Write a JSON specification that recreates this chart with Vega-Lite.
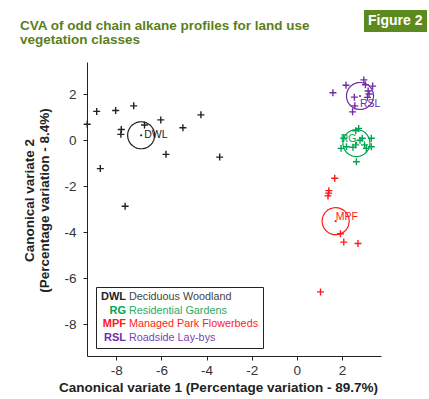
{
  "$schema": "https://vega.github.io/schema/vega-lite/v6.json",
  "width": 294,
  "height": 294,
  "autosize": {"type": "none"},
  "padding": {"left": 87, "top": 62, "right": 48, "bottom": 43},
  "background": "white",
  "title": {
    "text": ["CVA of odd chain alkane profiles for land use", "vegetation classes"],
    "anchor": "start",
    "frame": "group",
    "dx": -67,
    "offset": -36,
    "font": "Liberation Sans",
    "fontSize": 13.5,
    "fontWeight": "bold",
    "color": "#5b7f1a",
    "lineHeight": 14
  },
  "config": {
    "view": {"stroke": null},
    "axis": {
      "grid": false,
      "domainColor": "#222",
      "tickColor": "#222",
      "tickSize": 4,
      "labelFont": "Liberation Sans",
      "labelFontSize": 13.5,
      "labelColor": "#333",
      "labelExpr": "(datum.value < 0 ? '-' : '') + abs(datum.value)",
      "titleFont": "Liberation Sans",
      "titleFontSize": 13.5,
      "titleFontWeight": "bold",
      "titleColor": "#222"
    }
  },
  "data": {
    "values": [
      {"g": "DWL", "name": "Deciduous Woodland", "kind": "pt", "x": -9.29, "y": 0.70},
      {"g": "DWL", "name": "Deciduous Woodland", "kind": "pt", "x": -8.87, "y": 1.26},
      {"g": "DWL", "name": "Deciduous Woodland", "kind": "pt", "x": -8.03, "y": 1.30},
      {"g": "DWL", "name": "Deciduous Woodland", "kind": "pt", "x": -7.23, "y": 1.50},
      {"g": "DWL", "name": "Deciduous Woodland", "kind": "pt", "x": -7.78, "y": 0.47},
      {"g": "DWL", "name": "Deciduous Woodland", "kind": "pt", "x": -7.80, "y": 0.26},
      {"g": "DWL", "name": "Deciduous Woodland", "kind": "pt", "x": -6.75, "y": 0.67},
      {"g": "DWL", "name": "Deciduous Woodland", "kind": "pt", "x": -6.03, "y": 0.89},
      {"g": "DWL", "name": "Deciduous Woodland", "kind": "pt", "x": -5.05, "y": 0.55},
      {"g": "DWL", "name": "Deciduous Woodland", "kind": "pt", "x": -4.25, "y": 1.11},
      {"g": "DWL", "name": "Deciduous Woodland", "kind": "pt", "x": -5.80, "y": -0.61},
      {"g": "DWL", "name": "Deciduous Woodland", "kind": "pt", "x": -3.42, "y": -0.73},
      {"g": "DWL", "name": "Deciduous Woodland", "kind": "pt", "x": -8.71, "y": -1.23},
      {"g": "DWL", "name": "Deciduous Woodland", "kind": "pt", "x": -7.61, "y": -2.87},
      {"g": "DWL", "name": "Deciduous Woodland", "kind": "c", "x": -6.90, "y": 0.22},
      {"g": "RG", "name": "Residential Gardens", "kind": "pt", "x": 2.74, "y": 0.52},
      {"g": "RG", "name": "Residential Gardens", "kind": "pt", "x": 2.61, "y": 0.42},
      {"g": "RG", "name": "Residential Gardens", "kind": "pt", "x": 2.08, "y": 0.09},
      {"g": "RG", "name": "Residential Gardens", "kind": "pt", "x": 2.90, "y": 0.09},
      {"g": "RG", "name": "Residential Gardens", "kind": "pt", "x": 3.30, "y": 0.09},
      {"g": "RG", "name": "Residential Gardens", "kind": "pt", "x": 1.96, "y": -0.35},
      {"g": "RG", "name": "Residential Gardens", "kind": "pt", "x": 2.20, "y": -0.28},
      {"g": "RG", "name": "Residential Gardens", "kind": "pt", "x": 2.49, "y": -0.30},
      {"g": "RG", "name": "Residential Gardens", "kind": "pt", "x": 2.61, "y": -0.20},
      {"g": "RG", "name": "Residential Gardens", "kind": "pt", "x": 3.00, "y": -0.20},
      {"g": "RG", "name": "Residential Gardens", "kind": "pt", "x": 3.30, "y": -0.28},
      {"g": "RG", "name": "Residential Gardens", "kind": "pt", "x": 3.08, "y": -0.35},
      {"g": "RG", "name": "Residential Gardens", "kind": "pt", "x": 2.80, "y": 0.00},
      {"g": "RG", "name": "Residential Gardens", "kind": "pt", "x": 2.64, "y": -0.93},
      {"g": "RG", "name": "Residential Gardens", "kind": "c", "x": 2.64, "y": -0.12},
      {"g": "MPF", "name": "Managed Park Flowerbeds", "kind": "pt", "x": 1.68, "y": -1.65},
      {"g": "MPF", "name": "Managed Park Flowerbeds", "kind": "pt", "x": 1.42, "y": -2.19},
      {"g": "MPF", "name": "Managed Park Flowerbeds", "kind": "pt", "x": 1.41, "y": -2.30},
      {"g": "MPF", "name": "Managed Park Flowerbeds", "kind": "pt", "x": 1.38, "y": -2.42},
      {"g": "MPF", "name": "Managed Park Flowerbeds", "kind": "pt", "x": 1.93, "y": -4.07},
      {"g": "MPF", "name": "Managed Park Flowerbeds", "kind": "pt", "x": 2.08, "y": -4.43},
      {"g": "MPF", "name": "Managed Park Flowerbeds", "kind": "pt", "x": 2.71, "y": -4.49},
      {"g": "MPF", "name": "Managed Park Flowerbeds", "kind": "pt", "x": 1.05, "y": -6.60},
      {"g": "MPF", "name": "Managed Park Flowerbeds", "kind": "c", "x": 1.72, "y": -3.52},
      {"g": "RSL", "name": "Roadside Lay-bys", "kind": "pt", "x": 1.60, "y": 2.07},
      {"g": "RSL", "name": "Roadside Lay-bys", "kind": "pt", "x": 2.18, "y": 2.40},
      {"g": "RSL", "name": "Roadside Lay-bys", "kind": "pt", "x": 2.97, "y": 2.63},
      {"g": "RSL", "name": "Roadside Lay-bys", "kind": "pt", "x": 3.04, "y": 2.42},
      {"g": "RSL", "name": "Roadside Lay-bys", "kind": "pt", "x": 3.36, "y": 2.36},
      {"g": "RSL", "name": "Roadside Lay-bys", "kind": "pt", "x": 3.16, "y": 2.15},
      {"g": "RSL", "name": "Roadside Lay-bys", "kind": "pt", "x": 3.20, "y": 2.02},
      {"g": "RSL", "name": "Roadside Lay-bys", "kind": "pt", "x": 3.13, "y": 1.87},
      {"g": "RSL", "name": "Roadside Lay-bys", "kind": "pt", "x": 2.55, "y": 1.88},
      {"g": "RSL", "name": "Roadside Lay-bys", "kind": "pt", "x": 2.57, "y": 1.50},
      {"g": "RSL", "name": "Roadside Lay-bys", "kind": "pt", "x": 2.47, "y": 1.24},
      {"g": "RSL", "name": "Roadside Lay-bys", "kind": "c", "x": 2.80, "y": 1.93}
    ]
  },
  "encoding": {
    "x": {
      "field": "x",
      "type": "quantitative",
      "scale": {"domain": [-9.30, 3.73], "nice": false, "zero": false},
      "axis": {
        "values": [-8, -6, -4, -2, 0, 2],
        "labelPadding": 3,
        "title": "Canonical variate 1 (Percentage variation - 89.7%)",
        "titleX": 131,
        "titleY": 35,
        "titleAlign": "center",
        "titleBaseline": "alphabetic"
      }
    },
    "y": {
      "field": "y",
      "type": "quantitative",
      "scale": {"domain": [-9.39, 3.41], "nice": false, "zero": false},
      "axis": {
        "values": [-8, -6, -4, -2, 0, 2],
        "labelPadding": 7,
        "title": ["Canonical variate 2", "(Percentage variation - 8.4%)"],
        "titleX": -54,
        "titleY": 138,
        "titleAngle": -90,
        "titleAlign": "center",
        "titleBaseline": "alphabetic",
        "titleLineHeight": 15
      }
    }
  },
  "layer": [
    {
      "transform": [{"filter": "datum.kind === 'pt'"}],
      "mark": {"type": "point", "shape": "M-1,0H1M0,-1V1", "filled": false, "size": 49, "strokeWidth": 1.4, "opacity": 1},
      "encoding": {
        "color": {
          "field": "g",
          "type": "nominal",
          "scale": {"domain": ["DWL", "RG", "MPF", "RSL"], "range": ["#222222", "#00a651", "#ff1a1a", "#6f2da8"]},
          "legend": {
            "orient": "none",
            "legendX": 9,
            "legendY": 225,
            "direction": "vertical",
            "title": null,
            "padding": 4,
            "symbolSize": 144,
            "symbolOpacity": 0,
            "symbolStrokeWidth": 0,
            "labelAlign": "right",
            "labelOffset": 14,
            "labelFont": "Liberation Sans",
            "labelFontSize": 11,
            "labelFontWeight": "bold",
            "rowPadding": 1.5,
            "labelColor": {"expr": "datum.value === 'RG' ? '#00a651' : datum.value === 'MPF' ? '#ff1a1a' : datum.value === 'RSL' ? '#6f2da8' : '#222222'"}
          }
        }
      }
    },
    {
      "transform": [{"filter": "datum.kind === 'c'"}],
      "mark": {"type": "point", "filled": false, "size": 729, "strokeWidth": 1.2, "opacity": 1},
      "encoding": {
        "color": {"field": "g", "type": "nominal", "legend": null},
        "shape": {
          "field": "name",
          "type": "nominal",
          "scale": {"domain": ["Deciduous Woodland", "Residential Gardens", "Managed Park Flowerbeds", "Roadside Lay-bys"], "range": ["circle", "circle", "circle", "circle"]},
          "legend": {
            "orient": "none",
            "legendX": 9,
            "legendY": 225,
            "direction": "vertical",
            "title": null,
            "padding": 4,
            "strokeColor": "#222222",
            "symbolSize": 144,
            "symbolOpacity": 0,
            "symbolStrokeWidth": 0,
            "labelOffset": 17,
            "labelFont": "Liberation Sans",
            "labelFontSize": 10.8,
            "rowPadding": 1.5,
            "labelColor": {"expr": "datum.value === 'Residential Gardens' ? '#2aaa62' : datum.value === 'Managed Park Flowerbeds' ? '#ff2222' : datum.value === 'Roadside Lay-bys' ? '#7b3fb5' : '#444444'"}
          }
        },
        "strokeDash": {
          "field": "kind",
          "type": "nominal",
          "scale": {"range": [[1, 0]]},
          "legend": {
            "orient": "none",
            "legendX": 277,
            "legendY": -52,
            "title": "Figure 2",
            "titleColor": "white",
            "titleFont": "Liberation Sans",
            "titleFontSize": 14,
            "titleFontWeight": "bold",
            "fillColor": "#5c8a1f",
            "padding": 4,
            "values": []
          }
        }
      }
    },
    {
      "transform": [{"filter": "datum.kind === 'c'"}],
      "mark": {"type": "circle", "size": 5, "opacity": 1},
      "encoding": {"color": {"field": "g", "type": "nominal", "legend": null}}
    },
    {
      "transform": [{"filter": "datum.kind === 'c' && datum.g === 'DWL'"}],
      "mark": {"type": "text", "align": "left", "baseline": "middle", "dx": 3, "dy": 0, "font": "Liberation Sans", "fontSize": 10.5},
      "encoding": {"text": {"field": "g"}, "color": {"field": "g", "type": "nominal", "legend": null}}
    },
    {
      "transform": [{"filter": "datum.kind === 'c' && datum.g === 'RG'"}],
      "mark": {"type": "text", "align": "right", "baseline": "middle", "dx": 0, "dy": -4, "font": "Liberation Sans", "fontSize": 10.5},
      "encoding": {"text": {"field": "g"}, "color": {"field": "g", "type": "nominal", "legend": null}}
    },
    {
      "transform": [{"filter": "datum.kind === 'c' && datum.g === 'RSL'"}],
      "mark": {"type": "text", "align": "left", "baseline": "middle", "dx": 0, "dy": 8, "font": "Liberation Sans", "fontSize": 10.5},
      "encoding": {"text": {"field": "g"}, "color": {"field": "g", "type": "nominal", "legend": null}}
    },
    {
      "transform": [{"filter": "datum.kind === 'c' && datum.g === 'MPF'"}],
      "mark": {"type": "text", "align": "left", "baseline": "middle", "dx": 0, "dy": -4, "font": "Liberation Sans", "fontSize": 10.5},
      "encoding": {"text": {"field": "g"}, "color": {"field": "g", "type": "nominal", "legend": null}}
    }
  ]
}
